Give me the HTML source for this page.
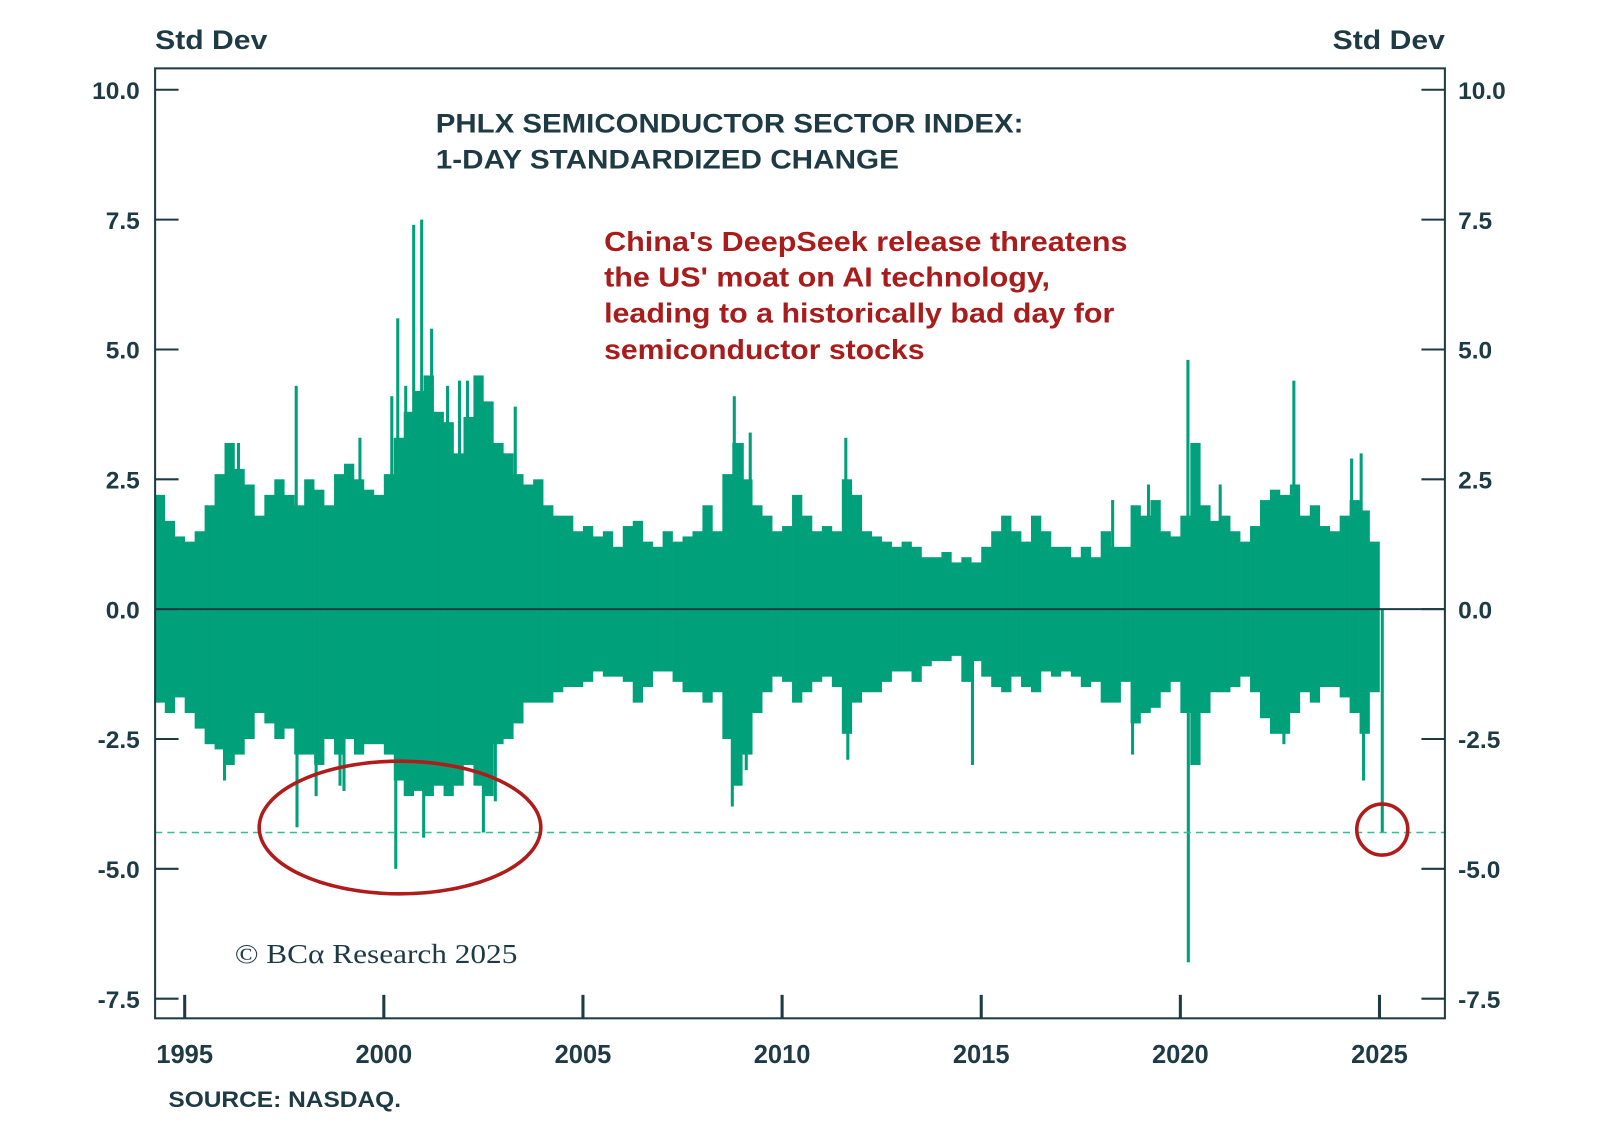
<!DOCTYPE html>
<html><head><meta charset="utf-8">
<style>
html,body{margin:0;padding:0;background:#fff;}
svg{display:block;}
</style></head>
<body>
<svg id="chart" width="1600" height="1128" viewBox="0 0 1568 1105.5" preserveAspectRatio="none" xmlns="http://www.w3.org/2000/svg" font-family="Liberation Sans, sans-serif">
<rect width="1568" height="1106" fill="#fff"/>
<text x="152" y="48" font-size="26" font-weight="bold" fill="#1e3b45" textLength="110" lengthAdjust="spacingAndGlyphs">Std Dev</text>
<text x="1306" y="48" font-size="26" font-weight="bold" fill="#1e3b45" textLength="110" lengthAdjust="spacingAndGlyphs">Std Dev</text>
<g id="marks"></g>
<rect x="152" y="67" width="1264" height="931" fill="none" stroke="#1e3b45" stroke-width="2"/>
<g id="axes"></g>
<text x="427" y="130" font-size="26" font-weight="bold" fill="#1e3b45" textLength="576" lengthAdjust="spacingAndGlyphs">PHLX SEMICONDUCTOR SECTOR INDEX:</text>
<text x="427" y="165" font-size="26" font-weight="bold" fill="#1e3b45" textLength="454" lengthAdjust="spacingAndGlyphs">1-DAY STANDARDIZED CHANGE</text>
<g font-size="27" font-weight="bold" fill="#a81c1c">
<text x="592" y="246" textLength="513" lengthAdjust="spacingAndGlyphs">China's DeepSeek release threatens</text>
<text x="592" y="281" textLength="437" lengthAdjust="spacingAndGlyphs">the US' moat on AI technology,</text>
<text x="592" y="316" textLength="500" lengthAdjust="spacingAndGlyphs">leading to a historically bad day for</text>
<text x="592" y="352" textLength="314" lengthAdjust="spacingAndGlyphs">semiconductor stocks</text>
</g>
<text x="230" y="944" font-size="27" fill="#1e3b45" style="font-family:'Liberation Serif',serif" textLength="277" lengthAdjust="spacingAndGlyphs">© BCα Research 2025</text>
<text x="165" y="1085" font-size="22" font-weight="bold" fill="#1e3b45" textLength="228" lengthAdjust="spacingAndGlyphs">SOURCE: NASDAQ.</text>
</svg>
<script>
const startYear = 1994.25;
const step = 0.25;
const hiValues = [2.2,1.7,1.4,
1.3,1.5,2.0,2.6, 3.2,2.7,2.4,1.8, 2.2,2.5,2.2,2.0, 2.5,2.3,2.0,2.6, 2.8,2.5,2.3,2.2,
2.6,3.3,3.8,4.2, 4.5,3.8,3.6,3.0, 3.7,4.5,4.0,3.2, 3.0,2.6,2.4,2.5, 2.0,1.8,1.8,1.5,
1.6,1.4,1.5,1.2, 1.6,1.7,1.3,1.2, 1.5,1.3,1.4,1.5, 2.0,1.5,2.6,3.2, 2.5,2.0,1.8,1.5,
1.6,2.2,1.8,1.5, 1.6,1.5,2.5,2.2, 1.5,1.4,1.3,1.2, 1.3,1.2,1.0,1.0, 1.1,0.9,1.0,0.9,
1.2,1.5,1.8,1.5, 1.3,1.8,1.5,1.2, 1.2,1.0,1.2,1.0, 1.5,1.2,1.2,2.0, 1.8,2.1,1.5,1.4,
1.8,3.2,2.0,1.7, 1.8,1.5,1.3,1.6, 2.1,2.3,2.2,2.4, 1.8,2.0,1.6,1.5, 1.8,2.1,1.9,1.3];
const loValues = [-1.8,-2.0,-1.7,
-2.0,-2.3,-2.6,-2.7, -3.0,-2.8,-2.5,-2.0, -2.2,-2.5,-2.3,-2.8, -2.8,-3.0,-2.5,-2.8, -2.5,-2.8,-2.6,-2.6,
-2.8,-3.3,-3.6,-3.5, -3.6,-3.4,-3.6,-3.4, -3.0,-3.4,-3.6,-2.6, -2.5,-2.2,-1.8,-1.8, -1.8,-1.6,-1.5,-1.5,
-1.4,-1.2,-1.3,-1.3, -1.4,-1.8,-1.5,-1.2, -1.2,-1.4,-1.6,-1.6, -1.8,-1.6,-2.5,-3.4, -2.8,-2.0,-1.6,-1.3,
-1.4,-1.8,-1.6,-1.4, -1.3,-1.5,-2.4,-1.8, -1.6,-1.6,-1.4,-1.2, -1.2,-1.4,-1.1,-1.0, -1.0,-0.9,-1.4,-1.0,
-1.3,-1.5,-1.6,-1.3, -1.5,-1.6,-1.2,-1.3, -1.2,-1.3,-1.5,-1.4, -1.8,-1.8,-1.4,-2.2, -2.0,-1.9,-1.6,-1.4,
-2.0,-3.0,-2.0,-1.6, -1.6,-1.5,-1.3,-1.6, -2.1,-2.4,-2.4,-2.0, -1.6,-1.8,-1.5,-1.5, -1.7,-2.0,-2.4,-1.6];
const spikeYears = [1994.35,1996.2,1996.35,1996.0,1997.8,1997.82,1998.3,1998.9,1999.4,1999.0,2000.2,2000.35,2000.3,2000.55,2000.75,2000.95,2001.2,2001.0,2001.6,2001.9,2002.1,2002.5,2002.4,2002.8,2003.0,2003.3,2008.8,2008.75,2009.2,2009.1,2009.0,2011.6,2011.65,2014.78,2018.8,2018.3,2020.19,2020.2,2020.3,2022.85,2022.6,2024.54,2024.6,2024.3,2025.07,2019.2,2021.0];
const spikeValues = [2.2,3.2,3.2,-3.3,4.3,-4.2,-3.6,-3.4,3.3,-3.5,4.1,5.6,-5.0,4.3,7.4,7.5,5.4,-4.4,4.3,4.4,4.4,-4.3,3.7,-3.7,3.0,3.9,4.1,-3.8,3.4,-3.1,3.2,3.3,-2.9,-3.0,-2.8,2.1,4.8,-6.8,-3.0,4.4,-2.6,3.0,-3.3,2.9,-4.3,2.4,2.4];
const yTicks = [10,7.5,5,2.5,0,-2.5,-5,-7.5];
const yTickLabels = ["10.0","7.5","5.0","2.5","0.0","-2.5","-5.0","-7.5"];
const xTicks = [1995,2000,2005,2010,2015,2020,2025];
const threshold = -4.3;

const NS="http://www.w3.org/2000/svg";
const X = yr => 181 + (yr-1995)*39.03;
const Y = v => 597 - v*50.9;
const marks=document.getElementById('marks');
const axes=document.getElementById('axes');
const GREEN="#00a07a";
function mk(tag, attrs, parent){const e=document.createElementNS(NS,tag);for(const k in attrs)e.setAttribute(k,attrs[k]);parent.appendChild(e);return e;}

hiValues.forEach((h,i)=>{
  const y0=startYear+i*step, x0=X(y0), x1=X(y0+step);
  const r=mk('rect',{x:x0,y:Y(h),width:x1-x0+0.3,height:Y(loValues[i])-Y(h),fill:GREEN},marks);
  
  
});
spikeYears.forEach((yr,i)=>{
  const v=spikeValues[i];
  const r=mk('rect',{x:X(yr)-1.5,y:Math.min(Y(v),597),width:3,height:Math.abs(Y(v)-597),fill:GREEN},marks);
  
  
});
const th=mk('line',{x1:152,x2:1416,y1:Y(threshold),y2:Y(threshold),stroke:"#2fbf90","stroke-width":1.5,"stroke-dasharray":"7,5"},marks);


const zl=mk('line',{x1:152,x2:1416,y1:Y(0),y2:Y(0),stroke:"#1e3b45","stroke-width":2},marks);


const el1=mk('ellipse',{cx:392,cy:811,rx:138,ry:65,fill:"none",stroke:"#b01c1c","stroke-width":3.5},marks);


const el2=mk('circle',{cx:X(2025.07),cy:813,r:25,fill:"none",stroke:"#b01c1c","stroke-width":3.5},marks);



yTicks.forEach((v,i)=>{
  const y=Y(v);
  const t1=mk('line',{x1:152,x2:175,y1:y,y2:y,stroke:"#1e3b45","stroke-width":2},axes);
  
  
  const t2=mk('line',{x1:1393,x2:1416,y1:y,y2:y,stroke:"#1e3b45","stroke-width":2},axes);
  
  
  const l=mk('text',{x:137,y:y+9,"font-size":24,"font-weight":"bold",fill:"#1e3b45","text-anchor":"end"},axes);
  l.textContent=yTickLabels[i];
  
  
  const r=mk('text',{x:1429,y:y+9,"font-size":24,"font-weight":"bold",fill:"#1e3b45"},axes);
  r.textContent=yTickLabels[i];
  
  
});
xTicks.forEach(yr=>{
  const x=X(yr);
  const t=mk('line',{x1:x,x2:x,y1:998,y2:975,stroke:"#1e3b45","stroke-width":3},axes);
  
  
  const l=mk('text',{x:x,y:1042,"font-size":25,"font-weight":"bold",fill:"#1e3b45","text-anchor":"middle"},axes);
  l.textContent=yr;
  
  
});
</script>
</body></html>
